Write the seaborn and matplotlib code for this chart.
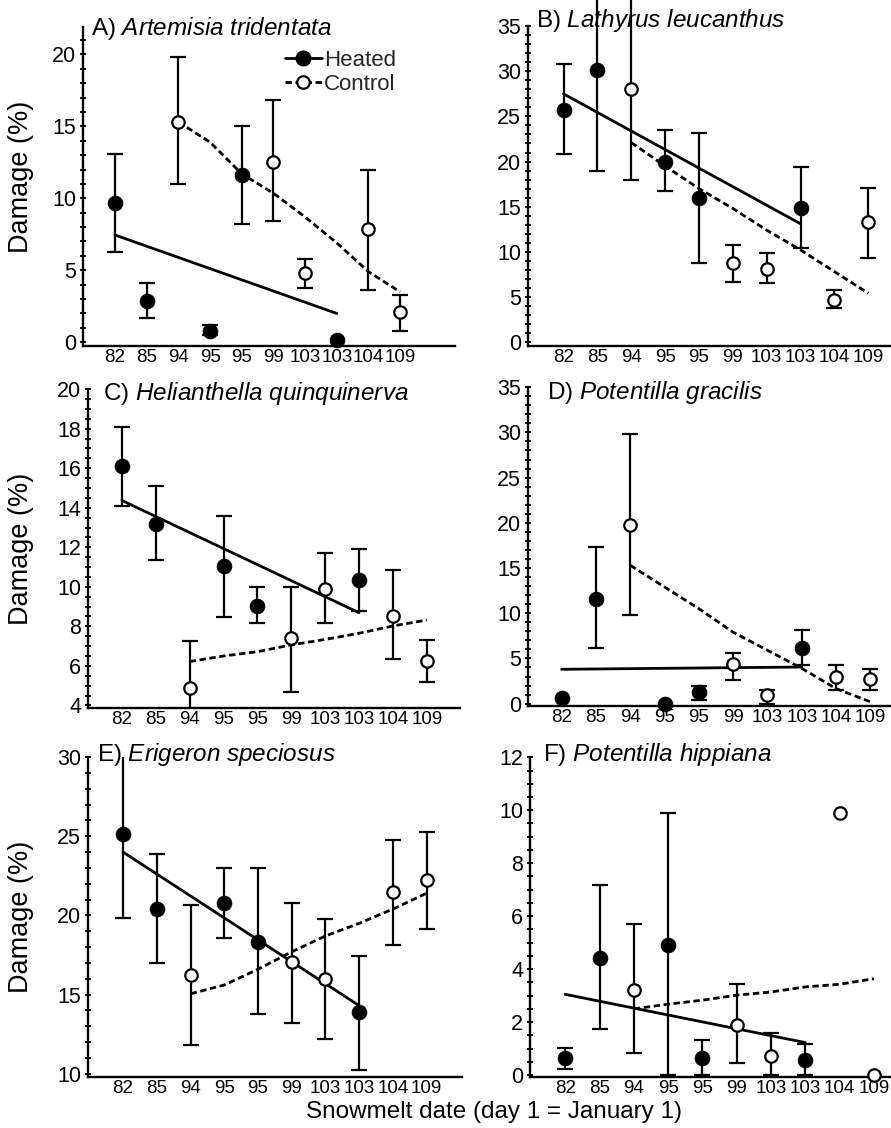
import numpy as np
import pandas as pd
import matplotlib
matplotlib.use("Agg")
import matplotlib.pyplot as plt
import seaborn as sns
from matplotlib.lines import Line2D
from matplotlib.ticker import MultipleLocator

nan = np.nan

# ---------------- data ----------------
dates = ["82", "85", "94", "95", "95", "99", "103", "103", "104", "109"]
treatment = ["Heated", "Heated", "Control", "Heated", "Heated",
             "Control", "Control", "Heated", "Control", "Control"]

# A) Artemisia tridentata
a_mean = [9.7, 2.9, 15.3, 0.8, 11.6, 12.5, 4.8, 0.15, 7.9, 2.1]
a_lo = [6.3, 1.7, 11.0, 0.5, 8.2, 8.4, 3.8, nan, 3.6, 0.75]
a_hi = [13.1, 4.1, 19.8, 1.2, 15.0, 16.8, 5.8, nan, 12.0, 3.3]
a_heated_fit = [7.45, 2.0]
a_control_fit = [15.3, 13.9, 11.7, 10.35, 8.7, 6.9, 4.9, 3.5]

# B) Lathyrus leucanthus
b_mean = [25.7, 30.1, 28.0, 20.0, 16.0, 8.8, 8.1, 14.85, 4.7, 13.3]
b_lo = [20.8, 18.9, 18.0, 16.7, 8.8, 6.7, 6.5, 10.4, 3.75, 9.3]
b_hi = [30.8, 40.0, 40.0, 23.5, 23.2, 10.8, 9.9, 19.4, 5.8, 17.1]
b_heated_fit = [27.5, 13.1]
b_control_fit = [22.1, 19.5, 17.0, 14.8, 12.4, 10.2, 7.8, 5.4]

# C) Helianthella quinquinerva
c_mean = [16.1, 13.2, 4.87, 11.05, 9.05, 7.4, 9.9, 10.35, 8.55, 6.25]
c_lo = [14.07, 11.35, 3.8, 8.45, 8.15, 4.7, 8.15, 8.8, 6.35, 5.2]
c_hi = [18.07, 15.08, 7.26, 13.56, 10.0, 10.0, 11.7, 11.9, 10.85, 7.3]
c_heated_fit = [14.37, 8.69]
c_control_fit = [6.22, 6.5, 6.72, 7.06, 7.34, 7.65, 8.02, 8.32]

# D) Potentilla gracilis
d_mean = [0.66, 11.6, 19.8, 0.0, 1.3, 4.35, 0.92, 6.1, 2.95, 2.76]
d_lo = [nan, 6.1, 9.76, nan, 0.37, 2.65, 0.0, 4.24, 1.55, 1.55]
d_hi = [nan, 17.3, 29.8, nan, 2.0, 5.64, 1.55, 8.18, 4.24, 3.8]
d_heated_fit = [3.8, 4.05]
d_control_fit = [15.3, 12.9, 10.5, 7.9, 5.9, 3.9, 1.66, 0.2]

# E) Erigeron speciosus
e_mean = [25.16, 20.38, 16.21, 20.8, 18.32, 17.05, 16.0, 13.89, 21.47, 22.25]
e_lo = [19.83, 16.99, 11.79, 18.59, 13.75, 13.22, 12.21, 10.25, 18.1, 19.12]
e_hi = [30.5, 23.9, 20.63, 23.0, 23.0, 20.78, 19.75, 17.43, 24.74, 25.26]
e_heated_fit = [24.0, 14.3]
e_control_fit = [15.05, 15.6, 16.6, 17.7, 18.7, 19.5, 20.4, 21.4]

# F) Potentilla hippiana
f_mean = [0.63, 4.43, 3.2, 4.9, 0.63, 1.88, 0.72, 0.57, 9.9, 0.0]
f_lo = [0.25, 1.73, 0.82, 0.0, 0.0, 0.44, 0.0, 0.0, nan, nan]
f_hi = [1.04, 7.16, 5.69, 9.9, 1.32, 3.43, 1.6, 1.19, nan, nan]
f_heated_fit = [3.05, 1.23]
f_control_fit = [2.5, 2.68, 2.83, 3.02, 3.14, 3.33, 3.43, 3.64]

letters = ["A)", "B)", "C)", "D)", "E)", "F)"]
species = ["Artemisia tridentata", "Lathyrus leucanthus", "Helianthella quinquinerva",
           "Potentilla gracilis", "Erigeron speciosus", "Potentilla hippiana"]

# ---------------- style ----------------
sns.set_theme(style="ticks")
plt.rcParams["font.family"] = ["Liberation Sans", "DejaVu Sans"]
plt.rcParams["mathtext.fontset"] = "custom"
plt.rcParams["mathtext.rm"] = "Liberation Sans"
plt.rcParams["mathtext.it"] = "Liberation Sans:italic"

W, H = 891, 1128
fig = plt.figure(figsize=(W / 100, H / 100), dpi=100)

# layout (pixels): left, right, top, bottom
rects = [(83, 455, 27, 346), (528, 891, 26, 346),
         (88, 460, 389, 708), (528, 891, 387, 706),
         (88, 462, 757, 1077), (530, 891, 757, 1077)]
xlims = [(-1.01, 10.73), (-1.05, 9.67), (-1.0, 9.98), (-0.98, 9.6), (-1.04, 10.05), (-1.03, 9.5)]
ylims = [(-0.26, 21.9), (-0.44, 35.02), (3.87, 20.01), (-0.26, 35.02), (9.79, 30.01), (-0.07, 12.01)]
majors = [5, 5, 2, 5, 5, 2]
minors = [1, 1, 0.5, 1, 1, 0.5]
title_px = [(91, 28), (536, 21), (103, 394), (547, 393), (97, 755), (543, 755)]
clip_err = [True, False, True, True, True, True]

panels = [
    (a_mean, a_lo, a_hi, a_heated_fit, a_control_fit),
    (b_mean, b_lo, b_hi, b_heated_fit, b_control_fit),
    (c_mean, c_lo, c_hi, c_heated_fit, c_control_fit),
    (d_mean, d_lo, d_hi, d_heated_fit, d_control_fit),
    (e_mean, e_lo, e_hi, e_heated_fit, e_control_fit),
    (f_mean, f_lo, f_hi, f_heated_fit, f_control_fit),
]

idx = np.arange(len(dates))
heated_idx = [i for i, t in enumerate(treatment) if t == "Heated"]
control_idx = [i for i, t in enumerate(treatment) if t == "Control"]
dash = (0, (2.3, 1.3))

for k, (mean, lo, hi, hfit, cfit) in enumerate(panels):
    l, r, t, b = rects[k]
    ax = fig.add_axes([l / W, 1 - b / H, (r - l) / W, (b - t) / H])
    df = pd.DataFrame({"pos": idx, "date": dates, "treatment": treatment,
                       "mean": mean, "lo": lo, "hi": hi})

    # regression lines
    hx = [heated_idx[0], heated_idx[-1]]
    sns.lineplot(x=hx, y=hfit, ax=ax, color="black", lw=2.0, zorder=2)
    cx = list(range(control_idx[0], len(dates)))
    sns.lineplot(x=cx, y=cfit, ax=ax, color="black", lw=2.0, linestyle=dash, zorder=2)

    # error bars
    e = df.dropna(subset=["lo", "hi"])
    ax.errorbar(e["pos"], e["mean"],
                yerr=[e["mean"] - e["lo"], e["hi"] - e["mean"]],
                fmt="none", ecolor="black", elinewidth=1.6, capsize=5.5,
                capthick=1.6, zorder=3, clip_on=clip_err[k])

    # points
    h = df[df.treatment == "Heated"]
    c = df[df.treatment == "Control"]
    sns.scatterplot(x=h["pos"], y=h["mean"], ax=ax, color="black", s=115,
                    marker="o", edgecolor="black", linewidth=0.5, zorder=4, clip_on=False)
    sns.scatterplot(x=c["pos"], y=c["mean"], ax=ax, color="white", s=80,
                    marker="o", edgecolor="black", linewidth=1.6, zorder=4, clip_on=False)

    ax.set_xlim(*xlims[k])
    ax.set_ylim(*ylims[k])
    ax.set_xticks(idx)
    ax.set_xticklabels(dates, fontsize=13.5)
    ax.tick_params(axis="x", length=0, pad=2, colors="black")
    ax.yaxis.set_major_locator(MultipleLocator(majors[k]))
    ax.yaxis.set_minor_locator(MultipleLocator(minors[k]))
    ax.tick_params(axis="y", which="both", direction="inout", length=4, width=1.4,
                   labelsize=15.5, pad=3, colors="black")
    ax.set_xlabel("")
    ax.set_ylabel("")
    for s in ["top", "right"]:
        ax.spines[s].set_visible(False)
    for s in ["left", "bottom"]:
        ax.spines[s].set_linewidth(1.7)
        ax.spines[s].set_color("black")

    sp = species[k].replace(" ", r"\ ")
    tx, ty = title_px[k]
    fig.text(tx / W, 1 - ty / H, letters[k] + " $\\it{" + sp + "}$",
             fontsize=17.5, ha="left", va="center", color="black")

    if k % 2 == 0:
        ax.set_ylabel("Damage (%)", fontsize=19.5, color="black")
        ax.yaxis.set_label_coords((34 - l) / (r - l), 0.53 if k == 0 else 0.5)

    if k == 0:
        handles = [
            Line2D([0], [0], color="black", lw=2.0, marker="o", markersize=10.5,
                   markerfacecolor="black", markeredgecolor="black"),
            Line2D([0], [0], color="black", lw=2.0, linestyle=dash, marker="o",
                   markersize=9, markerfacecolor="white", markeredgecolor="black",
                   markeredgewidth=1.6),
        ]
        ax.legend(handles, ["Heated", "Control"], loc="upper left",
                  bbox_to_anchor=(285 / W, 1 - 50 / H), bbox_transform=fig.transFigure,
                  frameon=False, fontsize=16, handlelength=1.65, handletextpad=0.1,
                  borderpad=0, borderaxespad=0, labelspacing=0.12)

fig.text(494 / W, 1 - 1112 / H, "Snowmelt date (day 1 = January 1)",
         fontsize=17.5, ha="center", va="center", color="black")

fig.savefig("out.png", dpi=100)
